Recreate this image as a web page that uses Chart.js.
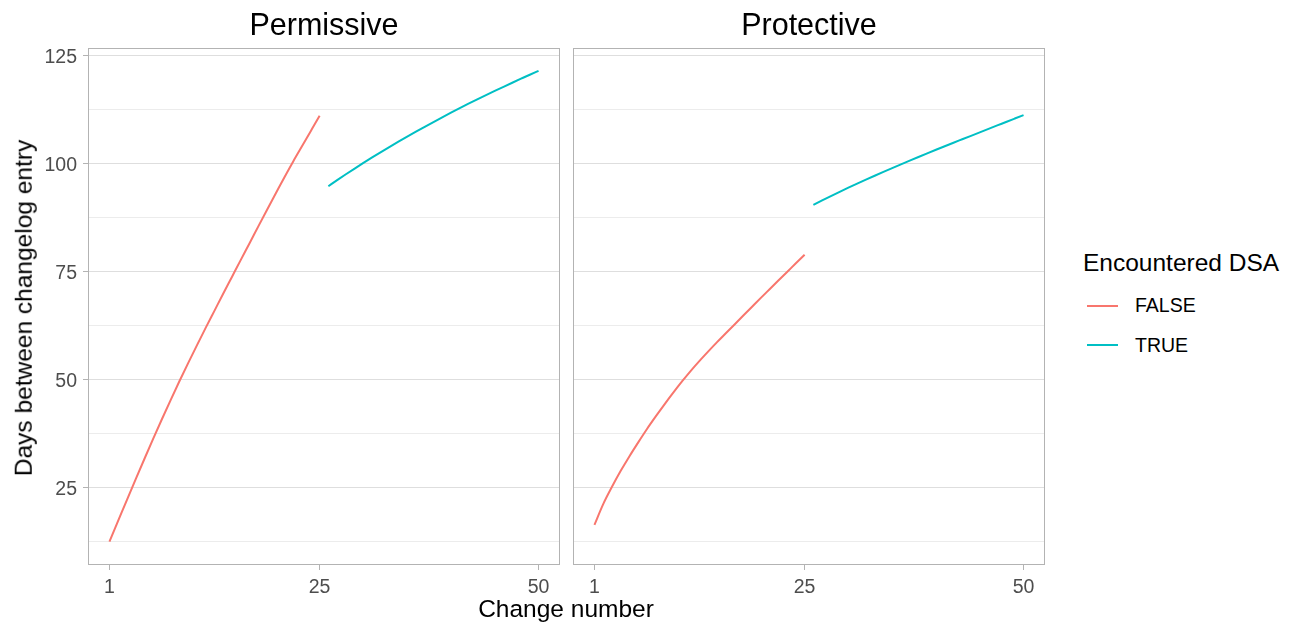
<!DOCTYPE html>
<html>
<head>
<meta charset="utf-8">
<script src="https://cdn.jsdelivr.net/npm/chart.js@4.4.0/dist/chart.umd.min.js"></script>
<style>
  body { margin: 0; background: #fff; font-family: "Liberation Sans", Arial, sans-serif; }
  #wrap { position: relative; width: 1295px; height: 625px; overflow: hidden; }
  canvas { position: absolute; top: 0; }
  .txt { position: absolute; line-height: 1; white-space: nowrap; color: #000; }
  .strip { font-size: 30.5px; transform: translateX(-50%); top: 9px; }
  .axt { font-size: 24.5px; }
  .lab { font-size: 19.5px; }
  .key { position: absolute; width: 31px; height: 2px; }
</style>
</head>
<body>
<div id="wrap">
  <canvas id="permissive" width="565" height="625" style="left:0px"></canvas>
  <canvas id="protective" width="485" height="625" style="left:565px"></canvas>
  <div class="txt strip" style="left:324px">Permissive</div>
  <div class="txt strip" style="left:809px">Protective</div>
  <div class="txt axt" style="left:566px;top:597px;transform:translateX(-50%)">Change number</div>
  <div class="txt axt" style="left:24px;top:308px;transform:translate(-50%,-50%) rotate(-90deg)">Days between changelog entry</div>
  <div class="txt axt" style="left:1083px;top:251px">Encountered DSA</div>
  <div class="key" style="left:1087px;top:305px;background:#F8766D"></div>
  <div class="txt lab" style="left:1135px;top:296px">FALSE</div>
  <div class="key" style="left:1087px;top:344px;background:#00BFC4"></div>
  <div class="txt lab" style="left:1135px;top:336px">TRUE</div>
</div>
<script>
// change numbers for each group
const changeFalse = [1,2,3,4,5,6,7,8,9,10,11,12,13,14,15,16,17,18,19,20,21,22,23,24,25];
const changeTrue = [26,27,28,29,30,31,32,33,34,35,36,37,38,39,40,41,42,43,44,45,46,47,48,49,50];
const xTicks = [1, 25, 50];
const yTicks = [12.5, 25, 37.5, 50, 62.5, 75, 87.5, 100, 112.5, 125];

// Permissive
const permFalse = [12.5,17.35,22.2,27.0,31.7,36.35,40.9,45.35,49.7,53.9,58.0,62.05,66.0,69.95,73.85,77.75,81.6,85.5,89.35,93.15,96.95,100.6,104.1,107.6,111.1];
const permTrue = [94.8,96.2,97.56,98.89,100.19,101.46,102.7,103.91,105.1,106.27,107.42,108.55,109.66,110.75,111.82,112.87,113.9,114.91,115.9,116.87,117.82,118.76,119.69,120.61,121.5];
// Protective
const protFalse = [16.4,21.2,25.2,28.9,32.3,35.5,38.6,41.5,44.3,47.0,49.6,52.05,54.35,56.55,58.7,60.75,62.8,64.85,66.9,68.95,70.95,72.95,74.95,76.95,78.95];
const protTrue = [90.5,91.52,92.52,93.5,94.46,95.4,96.32,97.22,98.11,98.99,99.86,100.72,101.57,102.41,103.24,104.06,104.87,105.67,106.47,107.27,108.07,108.87,109.67,110.47,111.27];

Chart.defaults.font.family = '"Liberation Sans", Arial, sans-serif';
Chart.defaults.font.size = 19.5;
Chart.defaults.color = '#4d4d4d';

// grey panel frame, like ggplot's panel.border
const frame = {
    id: 'frame',
    afterDatasetsDraw(chart) {
        const a = chart.chartArea;
        const c = chart.ctx;
        c.save();
        c.strokeStyle = '#b3b3b3';
        c.lineWidth = 1;
        c.strokeRect(a.left + 0.5, a.top + 0.5, a.right - a.left - 1, a.bottom - a.top - 1);
        c.restore();
    }
};

const pts = (xs, ys) => xs.map((x, i) => ({x: x, y: ys[i]}));

function makePanel(id, vFalse, vTrue, showY) {
    return new Chart(document.getElementById(id), {
        type: 'line',
        data: {
            datasets: [
                { label: 'FALSE', data: pts(changeFalse, vFalse), borderColor: '#F8766D', borderWidth: 2, pointRadius: 0, cubicInterpolationMode: 'monotone' },
                { label: 'TRUE', data: pts(changeTrue, vTrue), borderColor: '#00BFC4', borderWidth: 2, pointRadius: 0, cubicInterpolationMode: 'monotone' }
            ]
        },
        options: {
            responsive: false,
            animation: false,
            layout: { padding: { top: 48, right: 5, left: 0, bottom: 0 } },
            plugins: { legend: { display: false }, tooltip: { enabled: false } },
            scales: {
                x: {
                    type: 'linear',
                    min: -1.45,
                    max: 52.45,
                    afterBuildTicks: s => { s.ticks = xTicks.map(v => ({value: v})); },
                    afterFit: s => { s.height = 60; },
                    border: { display: false },
                    grid: { drawOnChartArea: false, drawTicks: true, tickLength: 5, tickColor: '#b3b3b3' },
                    ticks: { padding: 6, maxRotation: 0 }
                },
                y: {
                    type: 'linear',
                    min: 7.1,
                    max: 126.8,
                    afterBuildTicks: s => { s.ticks = yTicks.map(v => ({value: v})); },
                    afterFit: s => { s.width = showY ? 88 : 8; },
                    border: { display: false },
                    grid: {
                        drawTicks: showY,
                        tickLength: 5,
                        color: ctx => (ctx.tick && ctx.tick.value % 25 === 0) ? '#dedede' : '#ececec',
                        tickColor: ctx => (ctx.tick && ctx.tick.value % 25 === 0) ? '#b3b3b3' : 'rgba(0,0,0,0)'
                    },
                    ticks: {
                        display: showY,
                        padding: 6,
                        labelOffset: 2,
                        callback: v => (v % 25 === 0 ? String(v) : '')
                    }
                }
            }
        },
        plugins: [frame]
    });
}

makePanel('permissive', permFalse, permTrue, true);
makePanel('protective', protFalse, protTrue, false);
</script>
</body>
</html>
